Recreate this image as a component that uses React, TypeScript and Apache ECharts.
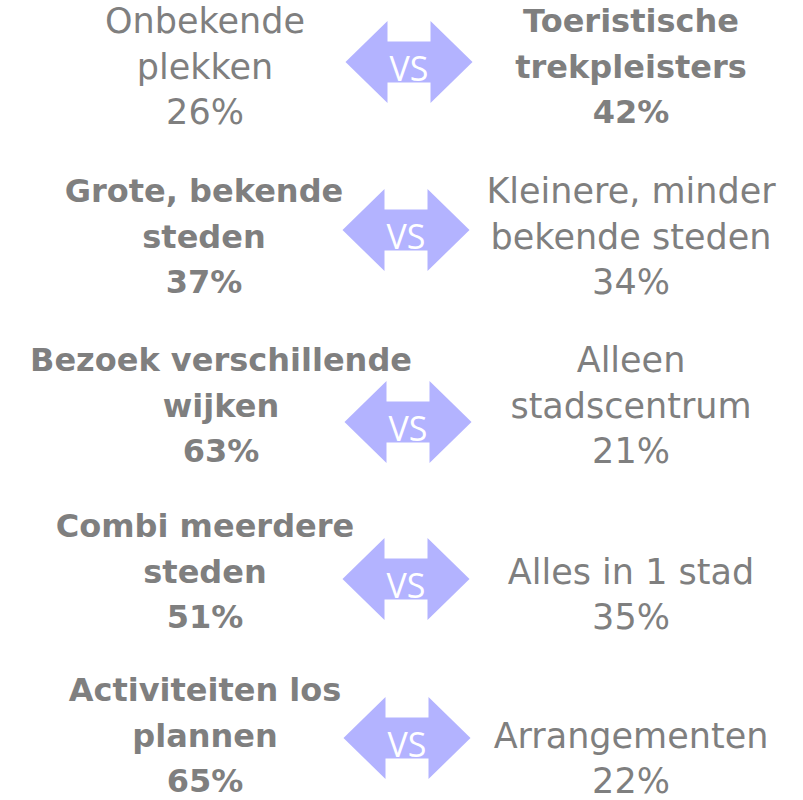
import React, { useEffect, useRef } from "react";
import * as echarts from "echarts";

// Data
const leftLabels = [
  ["Onbekende", "plekken"],
  ["Grote, bekende", "steden"],
  ["Bezoek verschillende", "wijken"],
  ["Combi meerdere", "steden"],
  ["Activiteiten los", "plannen"],
];
const leftValues = [26, 37, 63, 51, 65];
const rightLabels = [
  ["Toeristische", "trekpleisters"],
  ["Kleinere, minder", "bekende steden"],
  ["Alleen", "stadscentrum"],
  ["Alles in 1 stad"],
  ["Arrangementen"],
];
const rightValues = [42, 34, 21, 35, 22];
const vsLabel = "VS";

// Layout (positions only)
const rowBottomY = [112, 282, 451, 617, 781];
const leftCenterX = [205, 204, 221, 205, 205];
const rightCenterX = 631;
const arrowCenters = [
  [409, 62],
  [406, 230],
  [408, 422],
  [406, 579],
  [407, 738],
];
const lineGap = 45.5;
const textColor = "#7f7f7f";
const arrowColor = "#b3b3ff";
const fontFamily = "'DejaVu Sans', sans-serif";
const boldSize = 32;
const normalSize = 35;

function buildGraphics() {
  const els: any[] = [];
  const addBlock = (lines: string[], value: number, cx: number, bottom: number, bold: boolean) => {
    const all = [...lines, value + "%"];
    const n = all.length;
    all.forEach((t, i) => {
      els.push({
        type: "text",
        x: cx,
        y: bottom - (n - 1 - i) * lineGap,
        style: {
          text: t,
          fill: textColor,
          font: bold ? `bold ${boldSize}px ${fontFamily}` : `${normalSize}px ${fontFamily}`,
          textAlign: "center",
          textVerticalAlign: "middle",
        },
      });
    });
  };
  leftLabels.forEach((lines, i) => {
    const leftWins = leftValues[i] > rightValues[i];
    addBlock(lines, leftValues[i], leftCenterX[i], rowBottomY[i], leftWins);
    addBlock(rightLabels[i], rightValues[i], rightCenterX, rowBottomY[i], !leftWins);
    const [ax, ay] = arrowCenters[i];
    const hw = 63.5, hh = 41, sh = 20.5, head = 42;
    els.push({
      type: "polygon",
      shape: {
        points: [
          [ax - hw, ay],
          [ax - hw + head, ay - hh],
          [ax - hw + head, ay - sh],
          [ax + hw - head, ay - sh],
          [ax + hw - head, ay - hh],
          [ax + hw, ay],
          [ax + hw - head, ay + hh],
          [ax + hw - head, ay + sh],
          [ax - hw + head, ay + sh],
          [ax - hw + head, ay + hh],
        ],
      },
      style: { fill: arrowColor },
    });
    els.push({
      type: "text",
      x: ax,
      y: ay + 6,
      style: {
        text: vsLabel,
        fill: "#ffffff",
        font: `400 34px 'Open Sans', sans-serif`,
        textAlign: "center",
        textVerticalAlign: "middle",
      },
    });
  });
  return els;
}

export default function App() {
  const ref = useRef<HTMLDivElement>(null);
  useEffect(() => {
    document.body.style.margin = "0";
    const chart = echarts.init(ref.current!, undefined, { renderer: "svg" });
    chart.setOption({
      animation: false,
      backgroundColor: "#ffffff",
      graphic: { elements: buildGraphics() },
    });
    return () => chart.dispose();
  }, []);
  return <div ref={ref} style={{ width: 803, height: 800 }} />;
}
